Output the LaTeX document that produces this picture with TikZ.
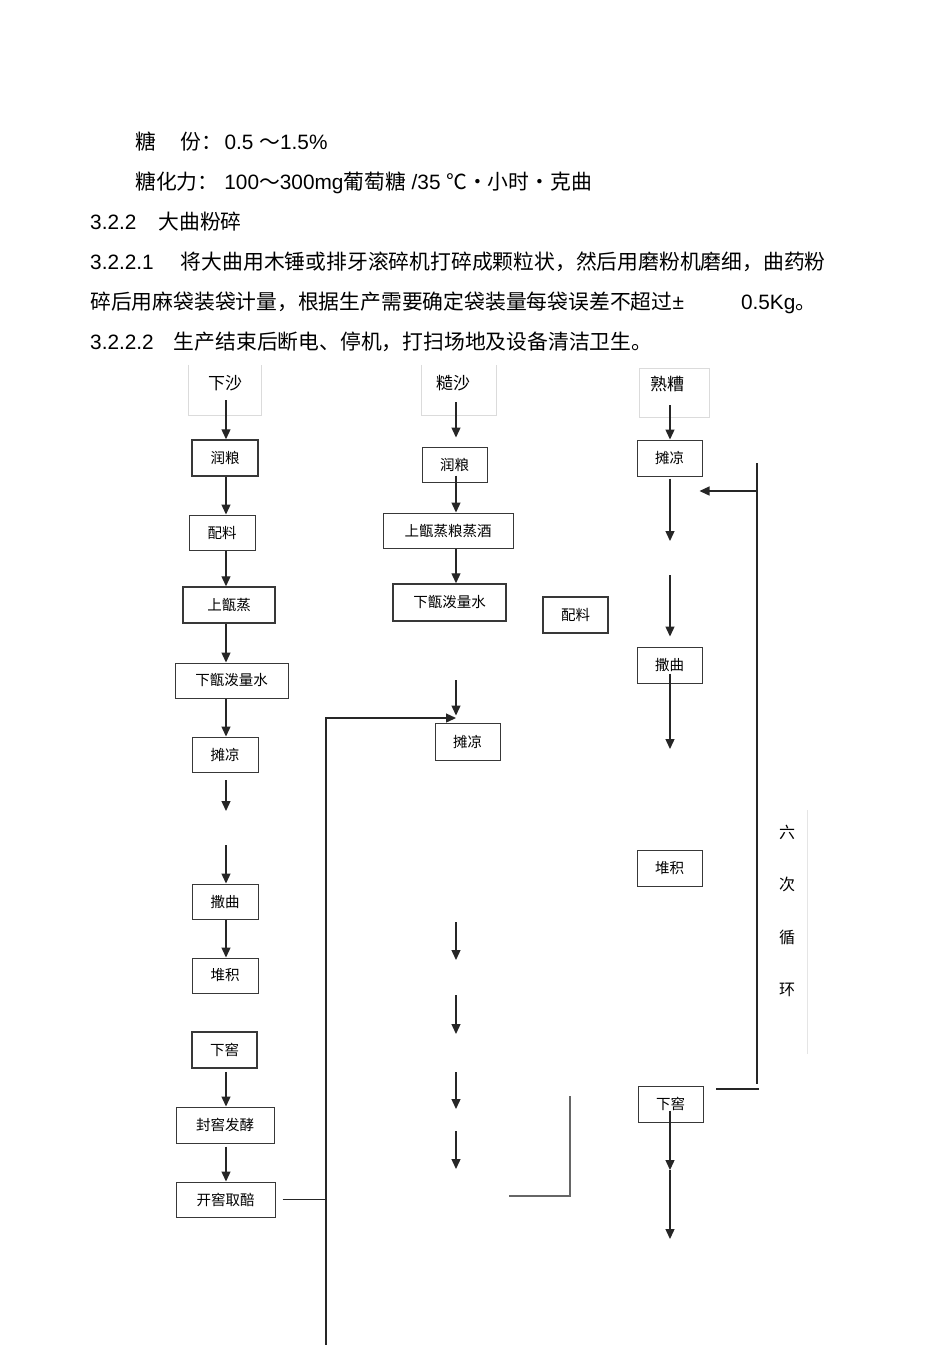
\documentclass[tikz,border=0pt]{standalone}
\usepackage{fontspec}
\setmainfont{Liberation Sans}
\newfontfamily\cjk{Noto Sans CJK SC}
\newcommand\myzh[1]{{\cjk #1}}
\usetikzlibrary{arrows.meta}
\begin{document}
\begin{tikzpicture}[x=1pt,y=-1pt,
  txt/.style={anchor=base west, inner sep=0pt, font=\fontsize{20.8}{24}\selectfont},
  box/.style={draw=black!78, line width=1pt, inner sep=0pt, font=\cjk\fontsize{14.5}{16}\selectfont},
  hbox/.style={box, line width=1.5pt},
  topbox/.style={draw=none, inner sep=0pt},
  topline/.style={draw=black!14, line width=0.9pt},
  lbl/.style={inner sep=0pt, font=\cjk\fontsize{17}{19}\selectfont},
  side/.style={inner sep=0pt, font=\cjk\fontsize{16}{18}\selectfont},
  arr/.style={draw=black!85, line width=1.3pt, -{Triangle[length=10pt,width=9pt]}},
  ln/.style={draw=black!85, line width=1.3pt},
  gln/.style={draw=black!60, line width=1.3pt},
  fln/.style={draw=black!10, line width=0.8pt},
]
\useasboundingbox[fill=white] (0,0) rectangle (950,1345);

% ---- text ----
\node[txt] (t1) at (135,149) {\myzh{糖}\hspace{25pt}\myzh{份：}\hspace{2pt}0.5 \myzh{～}1.5\%};
\node[txt] (t2) at (135,189) {\myzh{糖化力：}\hspace{6pt}100\myzh{～}300mg\myzh{葡萄糖} /35 \myzh{℃·}\myzh{小时·}\myzh{克曲}};
\node[txt] (t3) at (90,229) {3.2.2\hspace{22pt}\myzh{大曲粉碎}};
\node[txt] (t4) at (90,269) {3.2.2.1\hspace{27pt}\myzh{将大曲用木锤或排牙滚碎机打碎成颗粒状，然后用磨粉机磨细，曲药粉}};
\node[txt] (t5) at (90,309) {\myzh{碎后用麻袋装袋计量，根据生产需要确定袋装量每袋误差不超过}±\hspace{57pt}0.5Kg\myzh{。}};
\node[txt] (t6) at (90,349) {3.2.2.2\hspace{20pt}\myzh{生产结束后断电、停机，打扫场地及设备清洁卫生。}};

% ---- column x coordinates ----
\coordinate (axl) at (226,0);
\coordinate (axm) at (456,0);
\coordinate (axr) at (670,0);

% ---- left column ----
\node[topbox, minimum width=72pt, minimum height=50pt, label={[lbl,yshift=7pt]center:下沙}] (xs) at (225,390) {};
\draw[topline] (xs.north west) -- (xs.south west) -- (xs.south east) -- (xs.north east);
\node[hbox, minimum width=66pt, minimum height=36pt] (l1) at (225,458) {润粮};
\node[box, minimum width=66pt, minimum height=35pt] (l2) at (222,532.5) {配料};
\node[hbox, minimum width=92pt, minimum height=36pt] (l3) at (229,605) {上甑蒸};
\node[box, minimum width=113pt, minimum height=35pt] (l4) at (231.5,680.5) {下甑泼量水};
\node[box, minimum width=66pt, minimum height=35pt] (l5) at (225,754.5) {摊凉};
\node[box, minimum width=66pt, minimum height=35pt] (l6) at (225,901.5) {撒曲};
\node[box, minimum width=66pt, minimum height=35pt] (l7) at (225,975.5) {堆积};
\node[hbox, minimum width=65pt, minimum height=36pt] (l8) at (224.5,1050) {下窖};
\node[box, minimum width=98pt, minimum height=36pt] (l9) at (225,1125) {封窖发酵};
\node[box, minimum width=99pt, minimum height=35pt] (l10) at (225.5,1199.5) {开窖取醅};

\draw[arr] ([yshift=15pt]xs.south -| axl) -- (l1.north -| axl);
\draw[arr] (l1.south -| axl) -- (l2.north -| axl);
\draw[arr] (l2.south -| axl) -- (l3.north -| axl);
\draw[arr] (l3.south -| axl) -- (l4.north -| axl);
\draw[arr] (l4.south -| axl) -- (l5.north -| axl);
\coordinate (fa1) at (226,780);
\coordinate (fa2) at (226,811);
\coordinate (fa3) at (226,845);
\draw[arr] (fa1) -- (fa2);
\draw[arr] (fa3) -- (l6.north -| axl);
\draw[arr] (l6.south -| axl) -- (l7.north -| axl);
\draw[arr] ([yshift=-3pt]l8.south -| axl) -- (l9.north -| axl);
\draw[arr] ([yshift=-3pt]l9.south -| axl) -- (l10.north -| axl);

% ---- return loop to middle ----
\coordinate (vb) at (326,1345);
\coordinate (vt) at (326,718);
\coordinate (mj) at (456,718);
\draw[arr] (vb) -- (vt) -- (mj);
\draw[ln] ([xshift=7pt]l10.east) -- (l10.east -| vt);

% ---- middle column ----
\node[topbox, minimum width=74pt, minimum height=50pt, label={[lbl,yshift=7pt,xshift=-6pt]center:糙沙}] (ms) at (459,390) {};
\draw[topline] (ms.north west) -- (ms.south west) -- (ms.south east) -- (ms.north east);
\node[box, minimum width=65pt, minimum height=35pt] (m1) at (454.5,464.5) {润粮};
\node[box, minimum width=130pt, minimum height=35pt] (m2) at (448,530.5) {上甑蒸粮蒸酒};
\node[hbox, minimum width=113pt, minimum height=37pt] (m3) at (449.5,602.5) {下甑泼量水};
\node[hbox, minimum width=65pt, minimum height=36pt] (mp) at (575.5,615) {配料};
\node[box, minimum width=65pt, minimum height=37pt] (m5) at (467.5,741.5) {摊凉};

\draw[arr] ([yshift=13pt]ms.south -| axm) -- ([yshift=9pt]m1.north -| axm);
\draw[arr] ([yshift=7pt]m1.south -| axm) -- (m2.north -| axm);
\draw[arr] (m2.south -| axm) -- (m3.north -| axm);
\coordinate (mf0) at (456,680);
\draw[arr] (mf0) -- ([yshift=7pt]m5.north -| axm);
\coordinate (ma1) at (456,922);  \coordinate (mb1) at (456,960);
\coordinate (ma2) at (456,995);  \coordinate (mb2) at (456,1034);
\coordinate (ma3) at (456,1072); \coordinate (mb3) at (456,1109);
\coordinate (ma4) at (456,1131); \coordinate (mb4) at (456,1169);
\draw[arr] (ma1) -- (mb1);
\draw[arr] (ma2) -- (mb2);
\draw[arr] (ma3) -- (mb3);
\draw[arr] (ma4) -- (mb4);
\coordinate (bk1) at (509,1196);
\coordinate (bk2) at (570,1196);
\coordinate (bk3) at (570,1096);
\draw[gln] (bk1) -- (bk2) -- (bk3);

% ---- right column ----
\node[box, draw=black!14, line width=0.9pt, minimum width=70pt, minimum height=49pt, label={[lbl,yshift=9pt,xshift=-7pt]center:熟糟}] (rs) at (674,392.5) {};
\node[box, minimum width=65pt, minimum height=36pt] (r1) at (669.5,458) {摊凉};
\node[box, minimum width=65pt, minimum height=36pt] (r2) at (669.5,665) {撒曲};
\node[box, minimum width=65pt, minimum height=36pt] (r3) at (669.5,868) {堆积};
\node[box, minimum width=65pt, minimum height=36pt] (r4) at (670.5,1104) {下窖};

\draw[arr] ([yshift=12pt]rs.south -| axr) -- (r1.north -| axr);
\coordinate (rf1) at (670,541);
\draw[arr] ([yshift=-2pt]r1.south -| axr) -- (rf1);
\coordinate (rf2) at (670,575);
\draw[arr] (rf2) -- ([yshift=10pt]r2.north -| axr);
\coordinate (rf3) at (670,749);
\draw[arr] ([yshift=10pt]r2.south -| axr) -- (rf3);
\coordinate (rf4) at (670,1170);
\coordinate (rf5) at (670,1239);
\draw[arr] ([yshift=12pt]r4.south -| axr) -- (rf4);
\draw[arr] (rf4) -- (rf5);

% loop "six cycles"
\coordinate (lt) at (757,463);
\coordinate (lb) at (757,1084);
\coordinate (lh) at (757,491);
\draw[ln] (lt) -- (lb);
\draw[arr] (lh) -- ([xshift=-3pt]lh -| r1.east);
\coordinate (sh1) at (716,1089);
\coordinate (sh2) at (759,1089);
\draw[ln] (sh1) -- (sh2);
\node[side] (c1) at (787,832) {六};
\node[side] (c2) at (787,884) {次};
\node[side] (c3) at (787,937) {循};
\node[side] (c4) at (787,990) {环};
\coordinate (fl1) at (807,810);
\coordinate (fl2) at (807,1054);
\draw[fln] (fl1) -- (fl2);
\end{tikzpicture}
\end{document}
